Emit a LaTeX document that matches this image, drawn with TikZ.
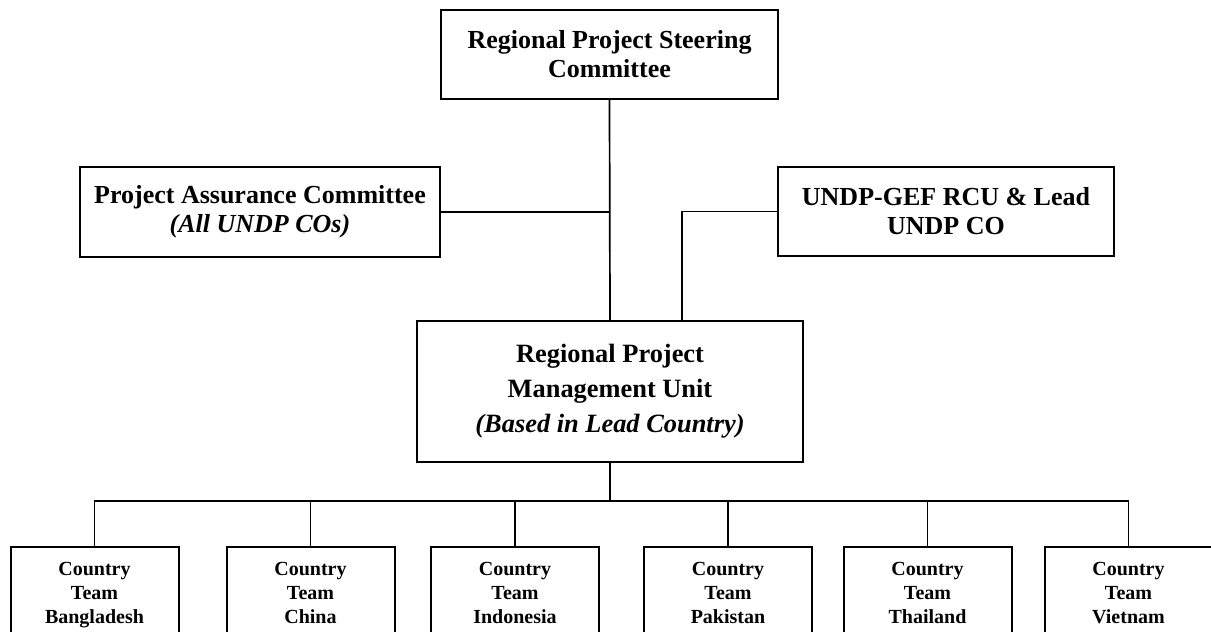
\documentclass[tikz,border=0pt]{standalone}
\usepackage{fontspec}
\setmainfont{Liberation Serif}
\usetikzlibrary{positioning}

\begin{document}
\begin{tikzpicture}[x=0.5pt, y=-0.5pt,
    box/.style={draw, line width=1pt, align=center, inner sep=2pt},
    bigtext/.style={font=\bfseries\fontsize{13}{14.5}\selectfont},
    teamtext/.style={font=\bfseries\fontsize{10}{12}\selectfont},
    link/.style={line width=0.85pt}]
      \clip (0,0) rectangle (1211,632);
      \fill[white] (0,0) rectangle (1211,632);

      \node[box, bigtext, minimum width=168.5pt, minimum height=44.5pt] (steer) at (609.5,54.5)
        {Regional Project Steering\\Committee};
      \node[box, bigtext, minimum width=180pt, minimum height=45pt] (assure) at (260,212)
        {Project Assurance Committee\\\textit{(All UNDP COs)}};
      \node[box, bigtext, minimum width=168pt, minimum height=44.5pt] (undp) at (946,211.5)
        {UNDP-GEF RCU \& Lead\\UNDP CO};
      \node[box, font=\bfseries\fontsize{13.2}{17.5}\selectfont, minimum width=193pt, minimum height=70.5pt] (rpmu) at (610,391.5)
        {Regional Project\\Management Unit\\\textit{(Based in Lead Country)}};

      \draw[link] (steer.south) -- (rpmu.north);
      \draw[link] (assure.east) -- (assure.east -| steer.south);
      \draw[link] (undp.west) -| ([xshift=36pt]rpmu.north);

      % country teams
      \foreach \cx/\cname/\cid in {94.5/Bangladesh/bgd, 310.5/China/chn, 515/Indonesia/idn,
                                  728/Pakistan/pak, 927.5/Thailand/tha, 1128.5/Vietnam/vnm} {
        \node[box, teamtext, anchor=north, minimum width=84pt, minimum height=48pt] (\cid) at (\cx,546)
          {Country\\Team\\\cname\vphantom{g}};
        \draw[link] (rpmu.south) -- ++(0,38) -| (\cid.north);
      }
\end{tikzpicture}
\end{document}
